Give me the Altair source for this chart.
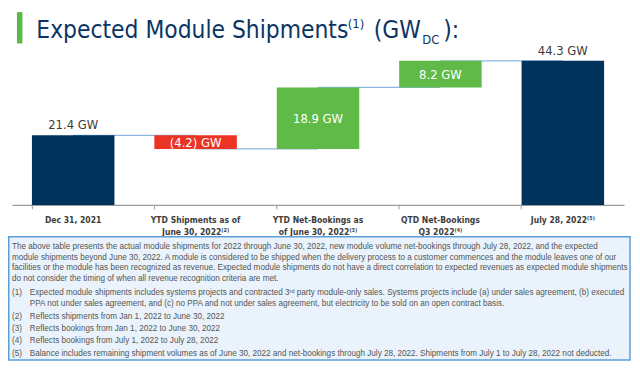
import altair as alt
import pandas as pd

# ---- data ----
categories = [
    "Dec 31, 2021",
    "YTD Shipments as of|June 30, 2022⁽²⁾",
    "YTD Net-Bookings as|of June 30, 2022⁽³⁾",
    "QTD Net-Bookings|Q3 2022⁽⁴⁾",
    "July 28, 2022⁽⁵⁾",
]
values = [21.4, -4.2, 18.9, 8.2, 44.3]
kinds = ["total", "delta", "delta", "delta", "total"]
value_labels = ["21.4 GW", "(4.2) GW", "18.9 GW", "8.2 GW", "44.3 GW"]

footnote_para = [
    "The above table presents the actual module shipments for 2022 through June 30, 2022, new module volume net-bookings through July 28, 2022, and the expected",
    "module shipments beyond June 30, 2022. A module is considered to be shipped when the delivery process to a customer commences and the module leaves one of our",
    "facilities or the module has been recognized as revenue. Expected module shipments do not have a direct correlation to expected revenues as expected module shipments",
    "do not consider the timing of when all revenue recognition criteria are met.",
]
footnote_nums = ["(1)", "", "(2)", "(3)", "(4)", "(5)"]
footnote_items = [
    "Expected module shipments includes systems projects and contracted 3ʳᵈ party module-only sales. Systems projects include (a) under sales agreement, (b) executed",
    "PPA not under sales agreement, and (c) no PPA and not under sales agreement, but electricity to be sold on an open contract basis.",
    "Reflects shipments from Jan 1, 2022 to June 30, 2022",
    "Reflects bookings from Jan 1, 2022 to June 30, 2022",
    "Reflects bookings from July 1, 2022 to July 28, 2022",
    "Balance includes remaining shipment volumes as of June 30, 2022 and net-bookings through July 28, 2022. Shipments from July 1 to July 28, 2022 not deducted.",
]

# ---- waterfall table ----
rows = []
running = 0.0
for cat, v, k, lab in zip(categories, values, kinds, value_labels):
    if k == "total":
        start, end = 0.0, v
        typ = "total"
    else:
        start, end = running, running + v
        typ = "decrease" if v < 0 else "increase"
    running = end
    rows.append(dict(cat=cat, start=start, end=end, mid=(start + end) / 2, typ=typ, label=lab, kind=k))
df = pd.DataFrame(rows)
conn = pd.DataFrame(
    [dict(cat=df.cat[i], nxt=df.cat[i + 1], level=df.end[i]) for i in range(len(df) - 1)]
)

NARROW = "DejaVu Sans Condensed, DejaVu Sans, sans-serif"
SANS = "Liberation Sans, Arial, sans-serif"

xscale = alt.Scale(domain=categories, range=[4, 620], paddingInner=0.326, paddingOuter=0.163)
yscale = alt.Scale(domain=[0, 44.3], range=[197, 52], nice=False, zero=True)

x_axis = alt.Axis(
    title=None, bandPosition=0, domainColor="#9a9a9a", domainWidth=1.5,
    tickColor="#9a9a9a", tickSize=4, tickWidth=1, labelAngle=0,
    labelFont=NARROW, labelFontSize=8.6, labelFontWeight="bold", labelColor="#3d3d3d",
    labelPadding=7, labelLineHeight=11.5, labelExpr="split(datum.label, '|')",
)

base = alt.Chart(df)

connectors = alt.Chart(conn).mark_rule(color="#8fb6dc", strokeWidth=1.3).encode(
    x=alt.X("cat:N", scale=xscale, axis=x_axis),
    x2="nxt:N",
    y=alt.Y("level:Q", scale=yscale, axis=None),
)

bars = base.mark_bar().encode(
    x=alt.X("cat:N", scale=xscale, axis=x_axis),
    y=alt.Y("start:Q", scale=yscale, axis=None),
    y2="end:Q",
    color=alt.Color(
        "typ:N",
        scale=alt.Scale(domain=["total", "decrease", "increase"], range=["#00335c", "#ec3425", "#5fba47"]),
        legend=None,
    ),
)

top_labels = base.transform_filter(alt.datum.kind == "total").mark_text(
    baseline="bottom", dy=-3, font=NARROW, fontSize=13, color="#3d3d3d"
).encode(x=alt.X("cat:N", scale=xscale), y=alt.Y("end:Q", scale=yscale), text="label:N")

in_labels = base.transform_filter(alt.datum.kind == "delta").mark_text(
    baseline="middle", dy=1, font=NARROW, fontSize=13, color="white"
).encode(x=alt.X("cat:N", scale=xscale), y=alt.Y("mid:Q", scale=yscale), text="label:N")

one = pd.DataFrame({"a": [0]})

# title
title_bar = alt.Chart(one).mark_rect(color="#5cb947").encode(
    x=alt.value(9), x2=alt.value(14.5), y=alt.value(3), y2=alt.value(34.5)
)
TITLE_C = "#0b3563"
title_parts = [
    ("Expected Module Shipments", 28.5, 29.5, 24.5),
    ("(1)", 342, 19, 13),
    ("(GW", 368, 29.5, 24.5),
    ("DC", 417, 35, 13),
    ("):", 438, 29.5, 24.5),
]
title_layers = [
    alt.Chart(one).mark_text(
        text=t, align="left", baseline="alphabetic", font=NARROW, fontSize=fs, color=TITLE_C
    ).encode(x=alt.value(xp), y=alt.value(yp))
    for t, xp, yp, fs in title_parts
]

# footnote box
box = alt.Chart(one).mark_rect(fill="#eaf3fb", stroke="#5c9fd8", strokeWidth=1.5).encode(
    x=alt.value(0.75), x2=alt.value(626), y=alt.value(229), y2=alt.value(353)
)
FN_C = "#555555"
FN_FS = 8.2
fn_layers = []
para_y = [239 + 11 * i for i in range(len(footnote_para))]
for t, yp in zip(footnote_para, para_y):
    fn_layers.append(
        alt.Chart(one).mark_text(text=t, align="left", baseline="middle", font=SANS, fontSize=FN_FS, color=FN_C)
        .encode(x=alt.value(4), y=alt.value(yp))
    )
item_y = [286, 297, 310, 322, 334, 347]
for n, t, yp in zip(footnote_nums, footnote_items, item_y):
    if n:
        fn_layers.append(
            alt.Chart(one).mark_text(text=n, align="left", baseline="middle", font=SANS, fontSize=FN_FS, color=FN_C)
            .encode(x=alt.value(4), y=alt.value(yp))
        )
    fn_layers.append(
        alt.Chart(one).mark_text(text=t, align="left", baseline="middle", font=SANS, fontSize=FN_FS, color=FN_C)
        .encode(x=alt.value(22), y=alt.value(yp))
    )

chart = alt.layer(
    box, *fn_layers, connectors, bars, top_labels, in_labels, title_bar, *title_layers
).properties(
    width=624, height=197,
    padding={"left": 0, "top": 0, "right": 4, "bottom": 160},
    autosize=alt.AutoSizeParams(type="none"),
).configure_view(stroke=None)

chart.save("out.html", embed_options={"renderer": "svg", "actions": False})
